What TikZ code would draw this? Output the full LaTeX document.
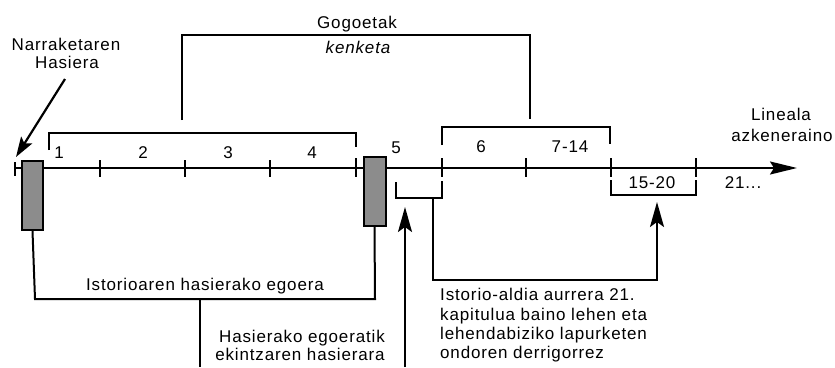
\documentclass[tikz,border=0pt]{standalone}
\usepackage{fontspec}
\setmainfont[LetterSpace=5]{Liberation Sans}
\usetikzlibrary{arrows.meta}
\tikzset{
  lbl/.style={font=\fontsize{17}{20}\selectfont, inner sep=0pt, anchor=base},
  lblw/.style={lbl, anchor=base west},
  brk/.style={line width=2pt},
  tk/.style={line width=1.8pt},
  grey/.style={draw=black, line width=2pt, fill=black!45},
  uparr/.style={line width=2pt, -{Stealth[length=25pt,width=14pt,inset=5pt]}},
  mainarr/.style={line width=2.2pt, -{Stealth[length=27pt,width=13pt,inset=4pt]}},
  narr/.style={line width=2.2pt, -{Stealth[length=20pt,width=13pt,inset=4pt]}}
}
\begin{document}
\begin{tikzpicture}[x=1pt,y=-1pt]
\useasboundingbox (0,0) rectangle (835,367);

% main time line
\coordinate (L0) at (15,168);
\coordinate (L1) at (797,168);
\draw[mainarr] (L0) -- (L1);

% ticks
\foreach \x/\a/\b in {15/162/176, 100/160/177, 185/160/177, 270/160/177, 356/158/177, 442/158/177, 526/158/177, 611/158/177, 696/158/177}
  \draw[tk] (\x,\a) -- (\x,\b);

% grey blocks
\node[grey, minimum width=21pt, minimum height=69pt, inner sep=0pt] (RL) at (32.5,195.5) {};
\node[grey, minimum width=22pt, minimum height=69pt, inner sep=0pt] (RR) at (374.5,191.5) {};

% Narraketaren Hasiera
\node[lbl] (n1) at (66,50) {Narraketaren};
\node[lbl] (n2) at (67,68) {Hasiera};
\coordinate (na0) at (65,79);
\coordinate (na1) at (16,157);
\draw[narr] (na0) -- (na1);

% Gogoetak bracket
\coordinate (g1) at (182,120);
\coordinate (g2) at (182,35);
\coordinate (g3) at (530,35);
\coordinate (g4) at (530,119);
\draw[brk] (g1) -- (g2) -- (g3) -- (g4);
\node[lbl] (gog) at (357,28) {Gogoetak};
\node[lbl, font=\fontsize{17}{20}\selectfont\itshape] (ken) at (358,53) {kenketa};

% bracket 1-4
\coordinate (b1) at (49,150);
\coordinate (b2) at (49,133);
\coordinate (b3) at (356,133);
\coordinate (b4) at (356,147);
\draw[brk] (b1) -- (b2) -- (b3) -- (b4);

% bracket 6 / 7-14
\coordinate (c1) at (442,145);
\coordinate (c2) at (442,127);
\coordinate (c3) at (610,127);
\coordinate (c4) at (610,144);
\draw[brk] (c1) -- (c2) -- (c3) -- (c4);

% bracket under 15-20
\coordinate (d1) at (611,180);
\coordinate (d2) at (611,195);
\coordinate (d3) at (696,195);
\coordinate (d4) at (696,180);
\draw[brk] (d1) -- (d2) -- (d3) -- (d4);

% bracket under 5
\coordinate (e1) at (396,182);
\coordinate (e2) at (396,198);
\coordinate (e3) at (442,198);
\coordinate (e4) at (442,181);
\draw[brk] (e1) -- (e2) -- (e3) -- (e4);

% numbers
\node[lbl] (t1) at (59,158) {1};
\node[lbl] (t2) at (143,158) {2};
\node[lbl] (t3) at (228,158) {3};
\node[lbl] (t4) at (312,158) {4};
\node[lbl] (t5) at (396,153) {5};
\node[lbl] (t6) at (481,152) {6};
\node[lbl] (t7) at (570,152) {7-14};
\node[lbl] (t8) at (652,188) {15-20};
\node[lbl] (t9) at (743,188) {21...};

% Lineala azkeneraino
\node[lbl] (lin1) at (781,120) {Lineala};
\node[lbl] (lin2) at (782,141.5) {azkeneraino};

% lower left bracket
\coordinate (f2) at (35,299);
\coordinate (f3) at (375,299);
\draw[brk] (RL.south) -- (f2) -- (f3) -- (RR.south);
\node[lbl] (ist) at (205,290) {Istorioaren hasierako egoera};
\coordinate (s0) at (200,299);
\coordinate (s1) at (200,367);
\draw[brk] (s0) -- (s1);

% Hasierako egoeratik arrow
\node[lbl] (h1) at (302,342) {Hasierako egoeratik};
\node[lbl] (h2) at (300,360) {ekintzaren hasierara};
\coordinate (ha0) at (405,367);
\coordinate (ha1) at (405,207);
\draw[uparr] (ha0) -- (ha1);

% Istorio-aldia connector
\coordinate (k0) at (433,198);
\coordinate (k1) at (433,280);
\coordinate (k2) at (657,280);
\coordinate (k3) at (657,202);
\draw[uparr] (k0) -- (k1) -- (k2) -- (k3);
\node[lblw] (i1) at (440,300) {Istorio-aldia aurrera 21.};
\node[lblw] (i2) at (440,320) {kapitulua baino lehen eta};
\node[lblw] (i3) at (440,339.5) {lehendabiziko lapurketen};
\node[lblw] (i4) at (440,358.5) {ondoren derrigorrez};
\end{tikzpicture}
\end{document}
